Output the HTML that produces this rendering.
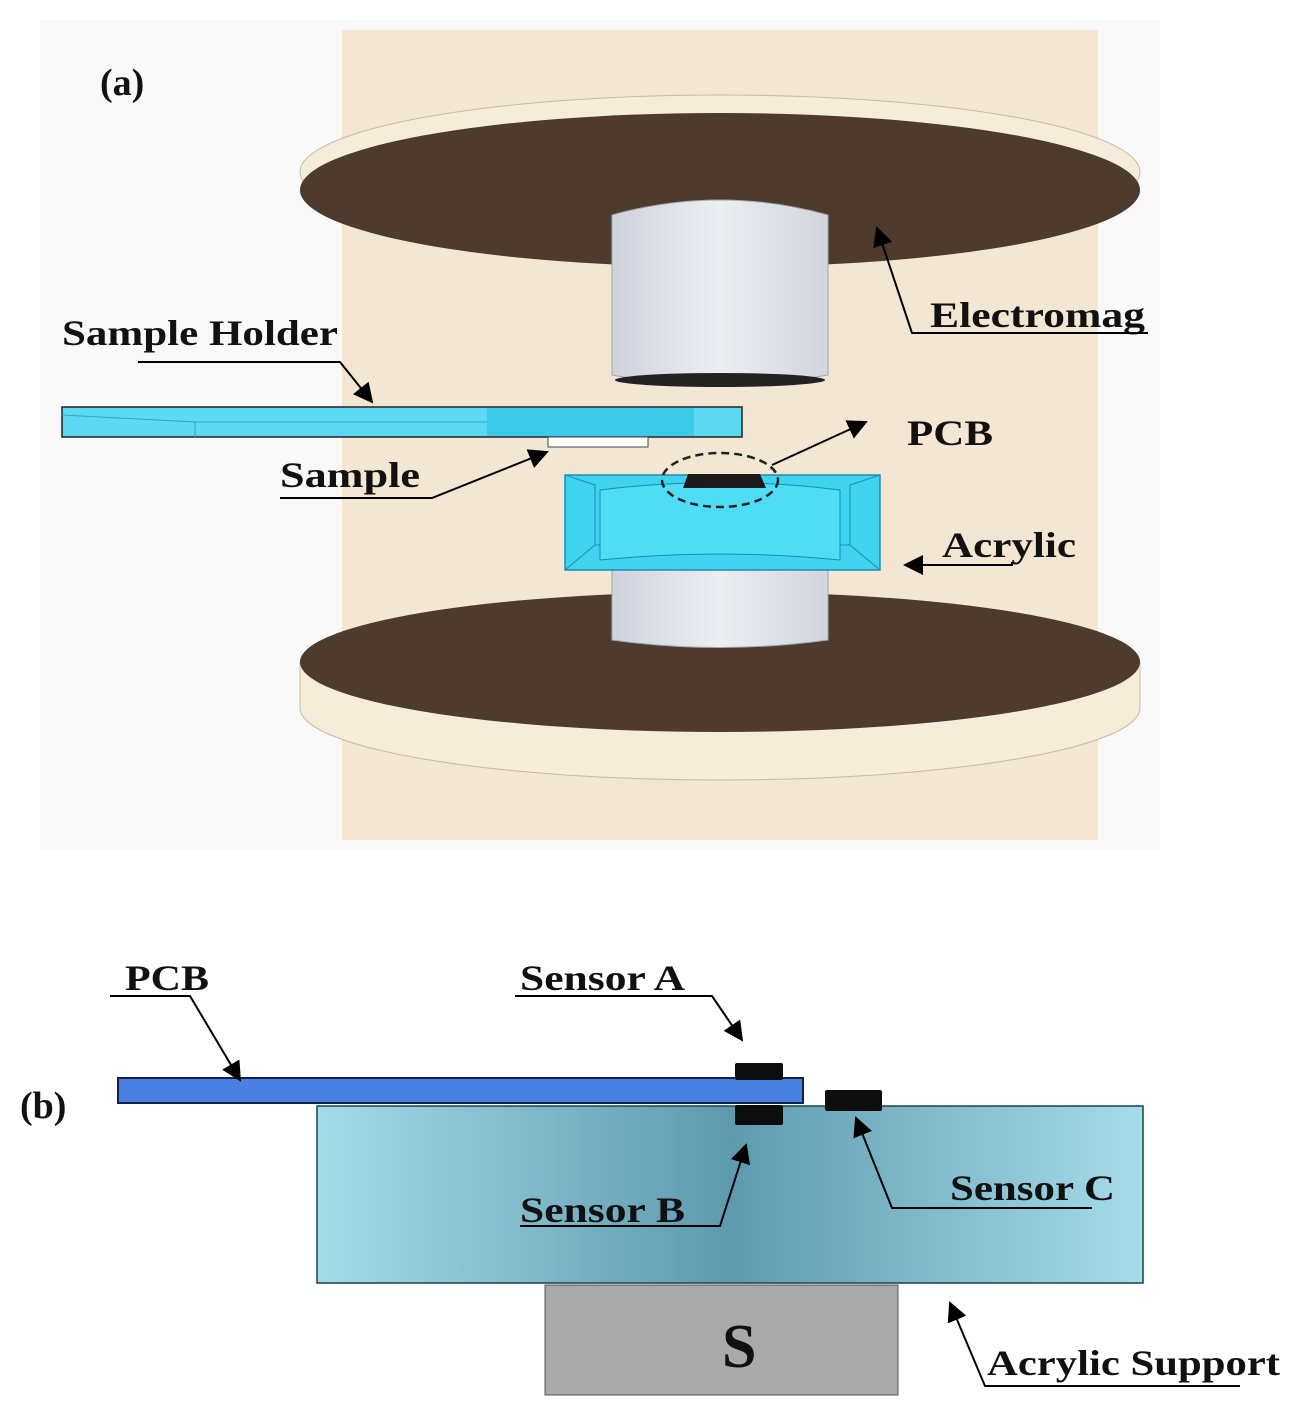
<!DOCTYPE html>
<html><head><meta charset="utf-8"><style>
html,body{margin:0;padding:0;background:#fff}
svg{display:block}
text{font-family:"Liberation Serif",serif;font-weight:bold;fill:#111}
</style></head><body>
<svg width="1316" height="1423" viewBox="0 0 1316 1423" xmlns="http://www.w3.org/2000/svg">
<defs>
<marker id="ar" viewBox="0 0 10 10" refX="9" refY="5" markerWidth="10" markerHeight="10" orient="auto-start-reverse"><path d="M0,0 L10,5 L0,10 z" fill="#000"/></marker>
<linearGradient id="acr" x1="0" x2="1" y1="0" y2="0"><stop offset="0" stop-color="#a3dbe9"/><stop offset="0.5" stop-color="#5e9aae"/><stop offset="1" stop-color="#a6dcea"/></linearGradient>
<linearGradient id="cyl" x1="0" x2="1"><stop offset="0" stop-color="#d0d3dc"/><stop offset="0.5" stop-color="#eceef3"/><stop offset="1" stop-color="#d2d5de"/></linearGradient>
</defs>
<rect x="40" y="20" width="1120" height="830" fill="#f9f9f9"/>
<rect x="342" y="30" width="756" height="810" fill="#f3e6d2"/>
<ellipse cx="720" cy="172" rx="420" ry="77" fill="#f6ecda" stroke="#c9b9a0"/>
<ellipse cx="720" cy="190" rx="420" ry="77" fill="#4e3b2d"/>
<path d="M612,215 Q720,185 828,215 L828,375 Q720,395 612,375 Z" fill="url(#cyl)" stroke="#9aa" />
<ellipse cx="720" cy="380" rx="105" ry="7" fill="#222"/>
<ellipse cx="720" cy="708" rx="420" ry="72" fill="#f6ecda" stroke="#c9b9a0"/>
<rect x="300" y="662" width="840" height="46" fill="#f6ecda"/>
<path d="M300,662 L300,708 M1140,662 L1140,708" stroke="#c9b9a0"/>
<ellipse cx="720" cy="662" rx="420" ry="70" fill="#4e3b2d"/>
<path d="M612,565 L828,565 L828,640 Q720,655 612,640 Z" fill="url(#cyl)" stroke="#9aa"/>
<rect x="565" y="475" width="315" height="95" fill="#3fd3ef" stroke="#1a8fb0" stroke-width="1.5"/>
<path d="M565,475 L595,485 L595,545 L565,570 M880,475 L850,485 L850,545 L880,570 M595,545 L850,545" stroke="#1a8fb0" fill="none"/>
<path d="M600,490 Q720,475 840,490 L840,560 Q720,548 600,560 Z" fill="#4fdcf5" stroke="#1a8fb0"/>
<rect x="62" y="407" width="680" height="30" fill="#5dd8f2" stroke="#222" stroke-width="1.5"/>
<rect x="487" y="408" width="207" height="28" fill="#3ccaea"/>
<path d="M62,415 L195,422 L195,437 M195,422 L487,422" stroke="#2aa8c8" fill="none"/>
<rect x="548" y="437" width="100" height="10" fill="#fff" stroke="#444"/>
<path d="M683,488 L688,474 L760,474 L766,488 Z" fill="#1a1a1a"/>
<ellipse cx="720" cy="480" rx="58" ry="27" fill="none" stroke="#222" stroke-width="2.5" stroke-dasharray="8,5"/>
<text x="100" y="95" font-size="38">(a)</text>
<text x="930" y="327" font-size="36" textLength="215" lengthAdjust="spacingAndGlyphs">Electromag</text>
<polyline points="1148,333 912,333 877,228" fill="none" stroke="#000" stroke-width="2" marker-end="url(#ar)"/>
<text x="62" y="345" font-size="36" textLength="276" lengthAdjust="spacingAndGlyphs">Sample Holder</text>
<polyline points="138,362 340,362 372,402" fill="none" stroke="#000" stroke-width="2" marker-end="url(#ar)"/>
<text x="907" y="445" font-size="36" textLength="86" lengthAdjust="spacingAndGlyphs">PCB</text>
<line x1="772" y1="465" x2="866" y2="422" stroke="#000" stroke-width="2" marker-end="url(#ar)"/>
<text x="280" y="487" font-size="36" textLength="140" lengthAdjust="spacingAndGlyphs">Sample</text>
<polyline points="280,498 432,498 547,452" fill="none" stroke="#000" stroke-width="2" marker-end="url(#ar)"/>
<text x="942" y="557" font-size="36" textLength="134" lengthAdjust="spacingAndGlyphs">Acrylic</text>
<polyline points="1012,562 1012,565 905,565" fill="none" stroke="#000" stroke-width="2" marker-end="url(#ar)"/>
<rect x="317" y="1106" width="826" height="177" fill="url(#acr)" stroke="#1f3f4a" stroke-width="1.5"/>
<rect x="545" y="1285" width="353" height="110" fill="#a9a9a9" stroke="#555"/>
<text x="722" y="1367" font-size="62">S</text>
<rect x="118" y="1078" width="685" height="25" fill="#4a80e0" stroke="#10204a" stroke-width="2"/>
<rect x="735" y="1063" width="48" height="17" rx="2" fill="#0d0d0d"/>
<rect x="735" y="1105" width="48" height="20" rx="2" fill="#0d0d0d"/>
<rect x="825" y="1090" width="57" height="21" rx="2" fill="#0d0d0d"/>
<text x="20" y="1118" font-size="38">(b)</text>
<text x="125" y="990" font-size="36" textLength="84" lengthAdjust="spacingAndGlyphs">PCB</text>
<polyline points="110,996 190,996 240,1080" fill="none" stroke="#000" stroke-width="2" marker-end="url(#ar)"/>
<text x="520" y="990" font-size="36" textLength="165" lengthAdjust="spacingAndGlyphs">Sensor A</text>
<polyline points="515,996 712,996 742,1040" fill="none" stroke="#000" stroke-width="2" marker-end="url(#ar)"/>
<text x="520" y="1222" font-size="36" textLength="165" lengthAdjust="spacingAndGlyphs">Sensor B</text>
<polyline points="520,1226 720,1226 746,1145" fill="none" stroke="#000" stroke-width="2" marker-end="url(#ar)"/>
<text x="950" y="1200" font-size="36" textLength="165" lengthAdjust="spacingAndGlyphs">Sensor C</text>
<polyline points="1092,1208 892,1208 856,1118" fill="none" stroke="#000" stroke-width="2" marker-end="url(#ar)"/>
<text x="987" y="1375" font-size="36" textLength="293" lengthAdjust="spacingAndGlyphs">Acrylic Support</text>
<polyline points="1240,1386 985,1386 950,1303" fill="none" stroke="#000" stroke-width="2" marker-end="url(#ar)"/>
</svg>
</body></html>
